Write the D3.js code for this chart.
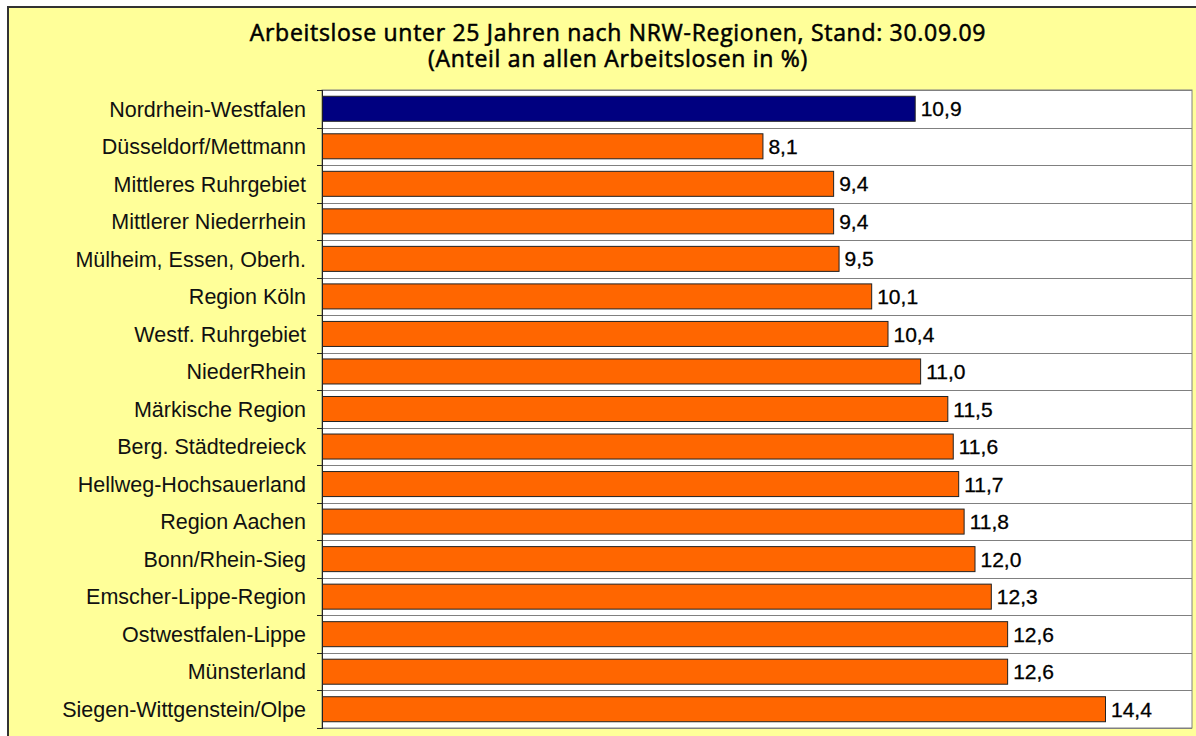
<!DOCTYPE html>
<html lang="de">
<head>
  <meta charset="UTF-8">
  <title>Arbeitslose unter 25 Jahren</title>
  <style>
    body { margin: 0; background: #fff; }
    text { font-family: "Liberation Sans", Arial, sans-serif; fill: #111; }
    .title { font-family: "Open Sans", "Liberation Sans", sans-serif; }
  </style>
</head>
<body>
  <svg id="svg" width="1196" height="736"></svg>

  <script src="https://d3js.org/d3.v7.min.js"></script>
  <script>
    const regions = ['Nordrhein-Westfalen', 'Düsseldorf/Mettmann', 'Mittleres Ruhrgebiet',
      'Mittlerer Niederrhein', 'Mülheim, Essen, Oberh.', 'Region Köln', 'Westf. Ruhrgebiet',
      'NiederRhein', 'Märkische Region', 'Berg. Städtedreieck', 'Hellweg-Hochsauerland',
      'Region Aachen', 'Bonn/Rhein-Sieg', 'Emscher-Lippe-Region', 'Ostwestfalen-Lippe',
      'Münsterland', 'Siegen-Wittgenstein/Olpe']
    const values = [10.9, 8.1, 9.4, 9.4, 9.5, 10.1, 10.4, 11.0, 11.5, 11.6, 11.7, 11.8, 12.0, 12.3, 12.6, 12.6, 14.4]
    const titleLines = ['Arbeitslose unter 25 Jahren nach NRW-Regionen, Stand: 30.09.09',
      '(Anteil an allen Arbeitslosen in %)']

    const data = regions.map((r, i) => ({ region: r, value: values[i] }))
    const svg = d3.select('#svg')

    // yellow chart frame
    svg.append('rect')
      .attr('x', 8).attr('y', 7)
      .attr('width', 1200).attr('height', 740)
      .attr('fill', '#ffff99')
      .attr('stroke', '#333')
      .attr('stroke-width', 2)

    const plotL = 322, plotR = 1192, plotT = 90, plotB = 728

    const xScale = d3.scaleLinear().domain([0, 16]).range([plotL, plotR])
    const yScale = d3.scaleBand()
      .domain(regions)
      .range([plotT, plotB])
      .paddingInner(1 / 3)
      .paddingOuter(1 / 6)

    // plot area
    svg.append('rect')
      .attr('x', plotL).attr('y', plotT)
      .attr('width', plotR - plotL).attr('height', plotB - plotT)
      .attr('fill', '#fff')
      .attr('stroke', '#808080')

    // category separators
    const step = yScale.step()
    const bounds = d3.range(regions.length + 1).map(i => plotT + i * step)
    svg.selectAll('.grid')
      .data(bounds)
      .enter()
      .append('line')
      .attr('x1', plotL).attr('x2', plotR)
      .attr('y1', d => Math.round(d) + 0.5).attr('y2', d => Math.round(d) + 0.5)
      .attr('stroke', '#808080')

    // left axis with ticks at boundaries
    svg.append('line')
      .attr('x1', plotL + 0.5).attr('x2', plotL + 0.5)
      .attr('y1', plotT).attr('y2', plotB + 1)
      .attr('stroke', '#222')
    svg.selectAll('.tick')
      .data(bounds)
      .enter()
      .append('line')
      .attr('x1', plotL - 5).attr('x2', plotL)
      .attr('y1', d => Math.round(d) + 0.5).attr('y2', d => Math.round(d) + 0.5)
      .attr('stroke', '#222')

    svg.selectAll('.bar')
      .data(data)
      .enter()
      .append('rect')
      .attr('x', xScale(0) + 0.5)
      .attr('y', d => yScale(d.region))
      .attr('width', d => xScale(d.value) - xScale(0))
      .attr('height', yScale.bandwidth())
      .attr('fill', (d, i) => i === 0 ? '#000080' : '#ff6600')
      .attr('stroke', '#222')
      .attr('stroke-width', 1)

    svg.selectAll('.label')
      .data(data)
      .enter()
      .append('text')
      .attr('x', 306)
      .attr('y', d => yScale(d.region) + yScale.bandwidth() / 2)
      .attr('dy', '0.36em')
      .attr('text-anchor', 'end')
      .style('font-size', '21.5px')
      .text(d => d.region)

    const fmt = v => d3.format('.1f')(v).replace('.', ',')
    svg.selectAll('.value')
      .data(data)
      .enter()
      .append('text')
      .attr('x', d => xScale(d.value) + 6)
      .attr('y', d => yScale(d.region) + yScale.bandwidth() / 2)
      .attr('dy', '0.36em')
      .style('font-size', '21px')
      .style('fill', '#000')
      .style('stroke', '#000')
      .style('stroke-width', 0.3)
      .text(d => fmt(d.value))

    // two-line title
    svg.selectAll('.title')
      .data(titleLines)
      .enter()
      .append('text')
      .attr('class', 'title')
      .attr('x', 618)
      .attr('y', (d, i) => 41 + i * 26)
      .attr('text-anchor', 'middle')
      .style('font-size', '23px')
      .style('letter-spacing', '0.7px')
      .style('font-weight', 500)
      .style('fill', '#000')
      .style('stroke', '#000')
      .style('stroke-width', 0.55)
      .text(d => d)
  </script>
</body>
</html>
